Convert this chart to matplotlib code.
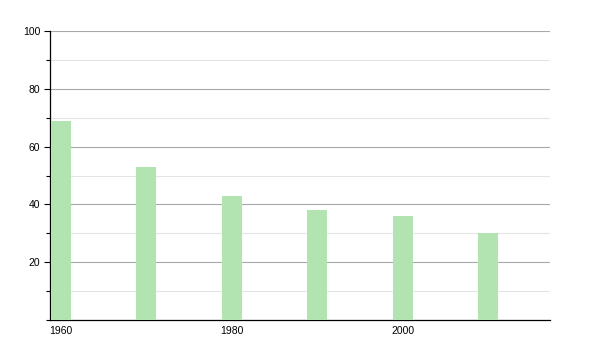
import matplotlib
matplotlib.use("Agg")
import matplotlib.pyplot as plt
from matplotlib.ticker import MultipleLocator

# data
years = [1960, 1970, 1980, 1990, 2000, 2010]
values = [69, 53, 43, 38, 36, 30]
xticks = [1960, 1980, 2000]

plt.rcParams["font.family"] = ["Liberation Sans", "DejaVu Sans"]

fig = plt.figure(figsize=(6, 3.5), dpi=100)
ax = fig.add_axes([50 / 600, 30 / 350, 500 / 600, 289 / 350])

ax.bar(years, values, width=2.34, color="#b2e4b2", zorder=3)
ax.set_xlim(1958.71, 2017.26)
ax.set_ylim(0, 100)

ax.set_yticks([20, 40, 60, 80, 100])
ax.yaxis.set_minor_locator(MultipleLocator(10))
ax.set_xticks(xticks)
ax.set_xticklabels([str(x) for x in xticks])
ax.tick_params(axis="x", length=0, labelsize=7.5, pad=4)
ax.tick_params(axis="y", which="major", length=4, width=0.8, labelsize=7.5, pad=3)
ax.tick_params(axis="y", which="minor", length=3, width=0.8)

ax.grid(axis="y", which="major", color="#a8a8a8", linewidth=0.8, zorder=0)
ax.grid(axis="y", which="minor", color="#e4e4e4", linewidth=0.8, zorder=0)
ax.set_axisbelow(True)

for side in ["top", "right"]:
    ax.spines[side].set_visible(False)
ax.spines["left"].set_linewidth(0.9)
ax.spines["bottom"].set_linewidth(0.9)

fig.savefig("out.png", dpi=100)
